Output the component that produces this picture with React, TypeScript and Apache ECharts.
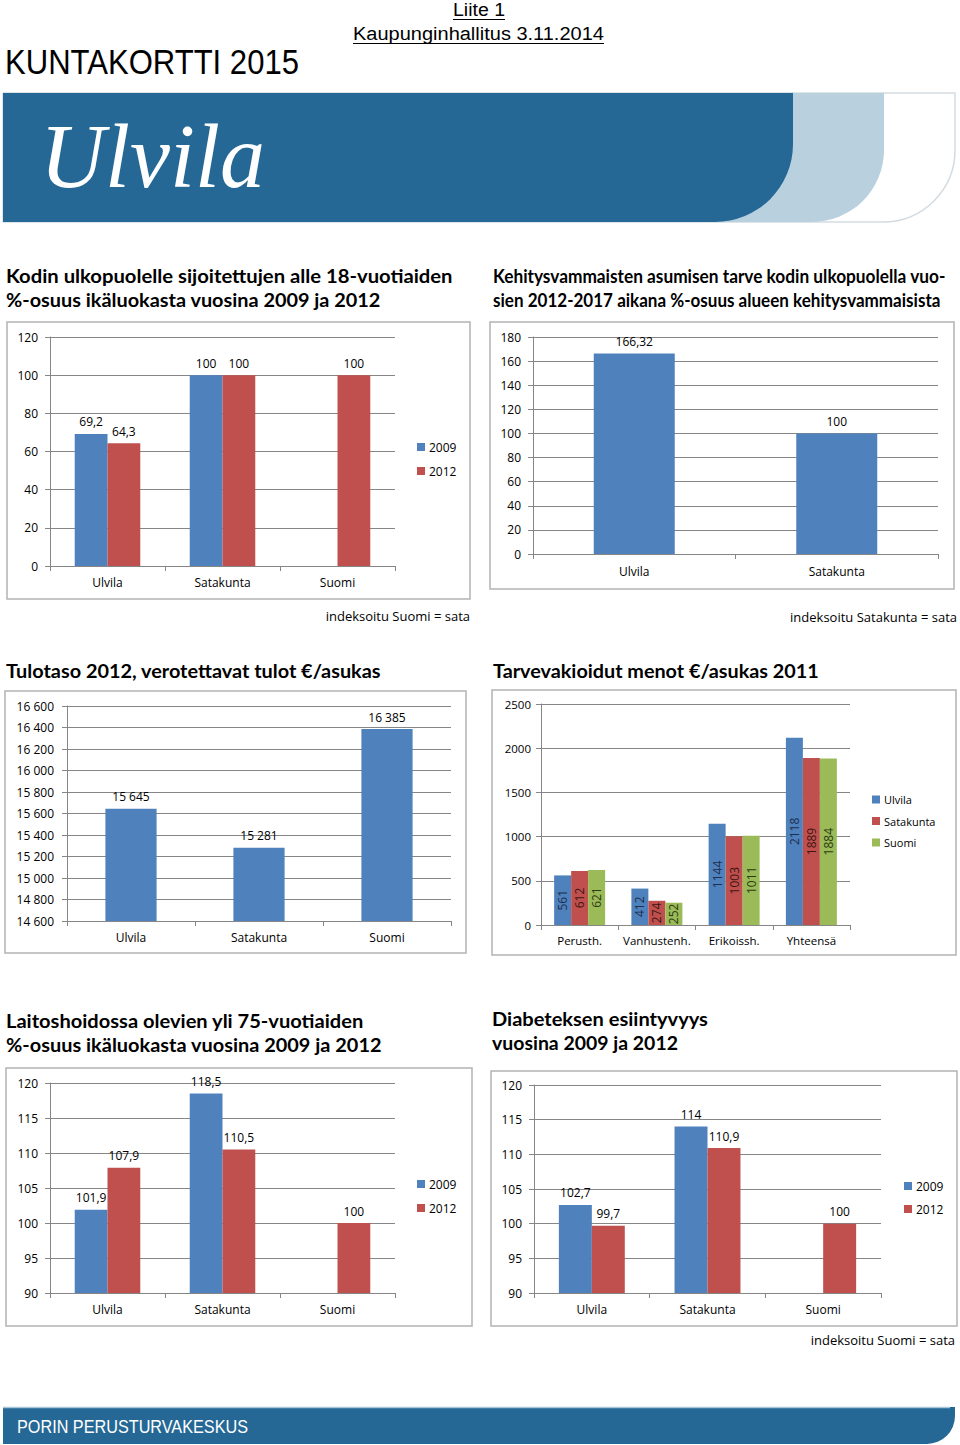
import React, { useEffect, useRef } from 'react';
import * as echarts from 'echarts';

// ---------- data ----------
const areaCats = ['Ulvila', 'Satakunta', 'Suomi'];
const kodin2009 = [69.2, 100, null];
const kodin2012 = [64.3, 100, 100];

const kehCats = ['Ulvila', 'Satakunta'];
const kehValues = [166.32, 100];

const tuloCats = ['Ulvila', 'Satakunta', 'Suomi'];
const tuloValues = [15645, 15281, 16385];

const menotCats = ['Perusth.', 'Vanhustenh.', 'Erikoissh.', 'Yhteensä'];
const menotUlvila = [561, 412, 1144, 2118];
const menotSatakunta = [612, 274, 1003, 1889];
const menotSuomi = [621, 252, 1011, 1884];

const laitos2009 = [101.9, 118.5, null];
const laitos2012 = [107.9, 110.5, 100];

const diab2009 = [102.7, 114, null];
const diab2012 = [99.7, 110.9, 100];

const yearNames = ['2009', '2012'];
const menotNames = ['Ulvila', 'Satakunta', 'Suomi'];

// ---------- style ----------
const BLUE = '#4f81bd';
const RED = '#c0504d';
const GREEN = '#9bbb59';
const AXIS_C = '#868686';
const BOX_C = '#b3b3b3';
const FONT = '"Open Sans", "Noto Sans", sans-serif';
const TFONT = 'Lato, "Noto Sans", sans-serif';
const BANNER = '#256896';

const comma = (v: any) => String(v).replace('.', ',');
const spaced = (v: any) => String(v).replace(/\B(?=(\d{3})+(?!\d))/g, ' ');
const plain = (v: any) => String(v);

let measureCtx: CanvasRenderingContext2D | null = null;
function measure(text: string, font: string) {
  if (!measureCtx) measureCtx = document.createElement('canvas').getContext('2d');
  if (!measureCtx) return 0;
  measureCtx.font = font;
  return measureCtx.measureText(text).width;
}

function fitText(text: string, x: number, y: number, font: string, width: number, fill = '#000') {
  const w = measure(text, font);
  const s = w > 0 ? width / w : 1;
  return {
    type: 'text',
    x,
    y,
    scaleX: s,
    style: {
      text,
      font,
      fill,
      align: 'left',
      verticalAlign: 'middle',
      textAlign: 'left',
      textVerticalAlign: 'middle',
    },
  };
}

function note(text: string, right: number, y: number) {
  return {
    type: 'text',
    x: right,
    y,
    style: {
      text,
      font: `13px ${FONT}`,
      fill: '#000',
      align: 'right',
      verticalAlign: 'middle',
      textAlign: 'right',
      textVerticalAlign: 'middle',
    },
  };
}

function box(x: number, y: number, w: number, h: number) {
  return {
    type: 'rect',
    shape: { x, y, width: w, height: h },
    style: { fill: 'none', stroke: BOX_C, lineWidth: 1.5 },
    z: -10,
  };
}

function xAxis(gridIndex: number, data: string[], margin: number, fontSize = 12) {
  return {
    type: 'category',
    gridIndex,
    data,
    axisLine: { show: true, lineStyle: { color: AXIS_C, width: 1 } },
    axisTick: { show: true, length: 5, lineStyle: { color: AXIS_C } },
    axisLabel: { color: '#000', fontSize, fontFamily: FONT, margin, interval: 0, hideOverlap: false },
    splitLine: { show: false },
  };
}

function yAxis(gridIndex: number, min: number, max: number, interval: number, margin: number, fmt: (v: number) => string, fontSize = 12) {
  return {
    type: 'value',
    gridIndex,
    min,
    max,
    interval,
    axisLine: { show: true, lineStyle: { color: AXIS_C, width: 1 } },
    axisTick: { show: true, length: 5, lineStyle: { color: AXIS_C } },
    axisLabel: { color: '#000', fontSize, fontFamily: FONT, margin, formatter: fmt },
    splitLine: { show: true, lineStyle: { color: AXIS_C, width: 1 } },
  };
}

function topLabel(fmt: (v: any) => string) {
  return {
    show: true,
    position: 'top',
    distance: 6,
    color: '#000',
    fontSize: 12,
    fontFamily: FONT,
    formatter: (p: any) => fmt(p.value),
  };
}

function bar(name: string, data: any[], idx: number, color: string, gap: string, label: any) {
  return {
    type: 'bar',
    name,
    data,
    xAxisIndex: idx,
    yAxisIndex: idx,
    barGap: '0%',
    barCategoryGap: gap,
    itemStyle: { color },
    label,
  };
}

function insideLabel(color: string) {
  return {
    show: true,
    position: 'inside',
    rotate: 90,
    color,
    fontSize: 12,
    fontFamily: FONT,
    formatter: (p: any) => String(p.value),
  };
}

function legend(left: number, top: number, data: string[], gap: number, fontSize: number) {
  return {
    orient: 'vertical',
    left,
    top,
    data,
    icon: 'rect',
    itemWidth: 8,
    itemHeight: 8,
    itemGap: gap,
    selectedMode: false,
    padding: 0,
    textStyle: { color: '#000', fontSize, fontFamily: FONT, padding: [0, 0, 0, -1] },
  };
}

function buildOption() {
  const titleFont = `bold 19px ${TFONT}`;
  const graphic: any[] = [
    // header
    fitText('Liite 1', 453, 10, `19px "Liberation Sans", Arial, sans-serif`, 52),
    { type: 'line', shape: { x1: 453, y1: 19.5, x2: 505, y2: 19.5 }, style: { stroke: '#000', lineWidth: 1 } },
    fitText('Kaupunginhallitus 3.11.2014', 353, 33, `19px "Liberation Sans", Arial, sans-serif`, 251),
    { type: 'line', shape: { x1: 353, y1: 43.5, x2: 604, y2: 43.5 }, style: { stroke: '#000', lineWidth: 1 } },
    fitText('KUNTAKORTTI 2015', 5, 62, `36px "Liberation Sans Narrow", "Liberation Sans", sans-serif`, 294),
    // banner
    {
      type: 'rect',
      shape: { x: 3, y: 93, width: 952, height: 129, r: [0, 0, 72, 0] },
      style: { fill: '#ffffff', stroke: '#d3dbe1', lineWidth: 1.5 },
    },
    {
      type: 'rect',
      shape: { x: 3, y: 93, width: 881, height: 129, r: [0, 0, 72, 0] },
      style: { fill: '#b9d1df' },
    },
    {
      type: 'rect',
      shape: { x: 3, y: 93, width: 790, height: 129, r: [0, 0, 78, 0] },
      style: { fill: BANNER },
    },
    fitText('Ulvila', 40, 156, `italic 92px "Liberation Serif", "DejaVu Serif", serif`, 225, '#ffffff'),
    // footer
    {
      type: 'rect',
      shape: { x: 3, y: 1407, width: 952, height: 37, r: [0, 0, 28, 0] },
      style: { fill: BANNER },
    },
    { type: 'line', shape: { x1: 3, y1: 1407.5, x2: 950, y2: 1407.5 }, style: { stroke: '#a9c6d9', lineWidth: 1.5 } },
    fitText('PORIN PERUSTURVAKESKUS', 17, 1427, `19px "Liberation Sans Narrow", "Liberation Sans", sans-serif`, 231, '#ffffff'),
    // titles
    fitText('Kodin ulkopuolelle sijoitettujen alle 18-vuotiaiden', 6, 276, titleFont, 447),
    fitText('%-osuus ikäluokasta vuosina 2009 ja 2012', 6, 300, titleFont, 375),
    fitText('Kehitysvammaisten asumisen tarve kodin ulkopuolella vuo-', 493, 276, titleFont, 453),
    fitText('sien 2012-2017 aikana %-osuus alueen kehitysvammaisista', 493, 300, titleFont, 448),
    fitText('Tulotaso 2012, verotettavat tulot €/asukas', 6, 671, titleFont, 375),
    fitText('Tarvevakioidut menot €/asukas 2011', 493, 671, titleFont, 326),
    fitText('Laitoshoidossa olevien yli 75-vuotiaiden', 6, 1021, titleFont, 358),
    fitText('%-osuus ikäluokasta vuosina 2009 ja 2012', 6, 1045, titleFont, 376),
    fitText('Diabeteksen esiintyvyys', 492, 1019, titleFont, 216),
    fitText('vuosina 2009 ja 2012', 492, 1043, titleFont, 186),
    // boxes
    box(7, 322, 463, 277),
    box(490, 322, 464, 267),
    box(5, 691, 461, 262),
    box(492, 690, 464, 265),
    box(6, 1068, 466, 258),
    box(491, 1071, 466, 255),
    // notes
    note('indeksoitu Suomi = sata', 470, 616),
    note('indeksoitu Satakunta = sata', 957, 617),
    note('indeksoitu Suomi = sata', 955, 1340),
  ];

  return {
    animation: false,
    backgroundColor: '#ffffff',
    grid: [
      { left: 50, top: 337, width: 345, height: 229 },
      { left: 533, top: 337, width: 405, height: 217 },
      { left: 67, top: 706, width: 384, height: 215 },
      { left: 541, top: 704, width: 309, height: 221 },
      { left: 50, top: 1083, width: 345, height: 210 },
      { left: 534, top: 1085, width: 347, height: 208 },
    ],
    xAxis: [
      xAxis(0, areaCats, 10),
      xAxis(1, kehCats, 11),
      xAxis(2, tuloCats, 10),
      xAxis(3, menotCats, 9, 11.5),
      xAxis(4, areaCats, 10),
      xAxis(5, areaCats, 10),
    ],
    yAxis: [
      yAxis(0, 0, 120, 20, 12, plain),
      yAxis(1, 0, 180, 20, 12, plain),
      yAxis(2, 14600, 16600, 200, 13, spaced),
      yAxis(3, 0, 2500, 500, 10, plain, 11.5),
      yAxis(4, 90, 120, 5, 12, plain),
      yAxis(5, 90, 120, 5, 12, plain),
    ],
    legend: [
      legend(417, 441, yearNames, 12, 12),
      legend(872, 794, menotNames, 10.5, 11),
      legend(417, 1178, yearNames, 12, 12),
      legend(904, 1180, yearNames, 11, 12),
    ],
    series: [
      bar(yearNames[0], kodin2009, 0, BLUE, '43%', topLabel(comma)),
      bar(yearNames[1], kodin2012, 0, RED, '43%', topLabel(comma)),
      bar('Kehitysvammaiset', kehValues, 1, BLUE, '60%', topLabel(comma)),
      bar('Tulotaso', tuloValues, 2, BLUE, '60%', topLabel(spaced)),
      bar(menotNames[0], menotUlvila, 3, BLUE, '34%', insideLabel('#1c2f4f')),
      bar(menotNames[1], menotSatakunta, 3, RED, '34%', insideLabel('#3f1514')),
      bar(menotNames[2], menotSuomi, 3, GREEN, '34%', insideLabel('#2b3a12')),
      bar(yearNames[0], laitos2009, 4, BLUE, '43%', topLabel(comma)),
      bar(yearNames[1], laitos2012, 4, RED, '43%', topLabel(comma)),
      bar(yearNames[0], diab2009, 5, BLUE, '43%', topLabel(comma)),
      bar(yearNames[1], diab2012, 5, RED, '43%', topLabel(comma)),
    ],
    graphic,
  };
}

export default function App() {
  const ref = useRef<HTMLDivElement>(null);
  useEffect(() => {
    if (!ref.current) return;
    const chart = echarts.init(ref.current, undefined, { renderer: 'svg' });
    chart.setOption(buildOption() as any);
    return () => chart.dispose();
  }, []);
  return (
    <div
      ref={ref}
      style={{ position: 'absolute', left: 0, top: 0, width: 960, height: 1445, background: '#fff' }}
    />
  );
}
